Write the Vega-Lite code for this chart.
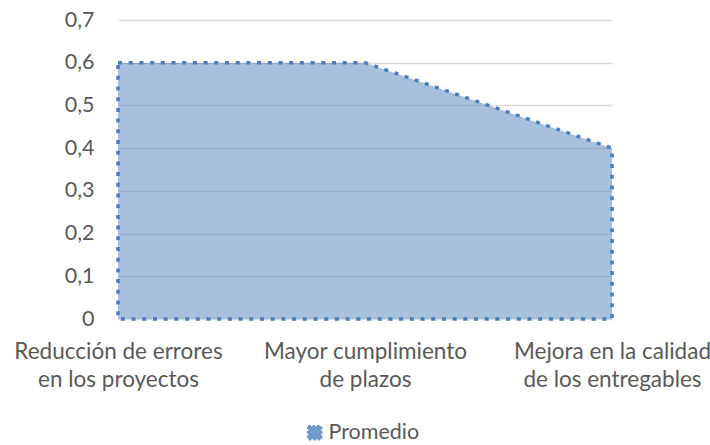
{
  "$schema": "https://vega.github.io/schema/vega-lite/v6.json",
  "width": 494,
  "height": 299,
  "autosize": {"type": "none"},
  "padding": {"left": 118, "top": 20, "right": 98, "bottom": 126},
  "background": "white",
  "config": {
    "font": "Lato",
    "view": {"stroke": null}
  },
  "data": {
    "values": [
      {"categoria": "Reducción de errores en los proyectos", "valor": 0.6, "serie": "Promedio"},
      {"categoria": "Mayor cumplimiento de plazos", "valor": 0.6, "serie": "Promedio"},
      {"categoria": "Mejora en la calidad de los entregables", "valor": 0.4, "serie": "Promedio"}
    ]
  },
  "mark": {
    "type": "area",
    "fill": "#4f81bd",
    "fillOpacity": 0.5,
    "stroke": "#4a7ebb",
    "strokeWidth": 3.5,
    "strokeDash": [4, 6.7]
  },
  "encoding": {
    "x": {
      "field": "categoria",
      "type": "ordinal",
      "sort": null,
      "scale": {"type": "point", "padding": 0},
      "axis": {
        "title": null,
        "domain": false,
        "ticks": false,
        "grid": false,
        "labelAngle": 0,
        "labelFontSize": 22.5,
        "labelLimit": 400,
        "labelColor": "#595959",
        "labelLineHeight": 28,
        "labelPadding": 21,
        "labelExpr": "datum.label == 'Reducción de errores en los proyectos' ? ['Reducción de errores', 'en los proyectos'] : datum.label == 'Mayor cumplimiento de plazos' ? ['Mayor cumplimiento', 'de plazos'] : ['Mejora en la calidad', 'de los entregables']"
      }
    },
    "y": {
      "field": "valor",
      "type": "quantitative",
      "scale": {"domain": [0, 0.7]},
      "axis": {
        "title": null,
        "domain": false,
        "ticks": false,
        "values": [0, 0.1, 0.2, 0.3, 0.4, 0.5, 0.6, 0.7],
        "gridColor": "#d9d9d9",
        "gridWidth": 1.3,
        "labelFontSize": 21.5,
        "labelColor": "#595959",
        "labelPadding": 24,
        "labelExpr": "datum.value == 0 ? '0' : replace(format(datum.value, '.1f'), '.', ',')"
      }
    },
    "color": {
      "field": "serie",
      "type": "nominal",
      "scale": {"range": ["#4f81bd"]},
      "legend": {
        "title": null,
        "orient": "none",
        "legendX": 186,
        "legendY": 402,
        "labelFontSize": 21.5,
        "labelColor": "#595959",
        "symbolType": "square",
        "symbolSize": 170,
        "symbolFillColor": "#4f81bd",
        "symbolOpacity": 0.8,
        "symbolStrokeColor": "#4a7ebb",
        "symbolStrokeWidth": 2.5,
        "symbolDash": [2.5, 2],
        "labelOffset": 3
      }
    }
  }
}
